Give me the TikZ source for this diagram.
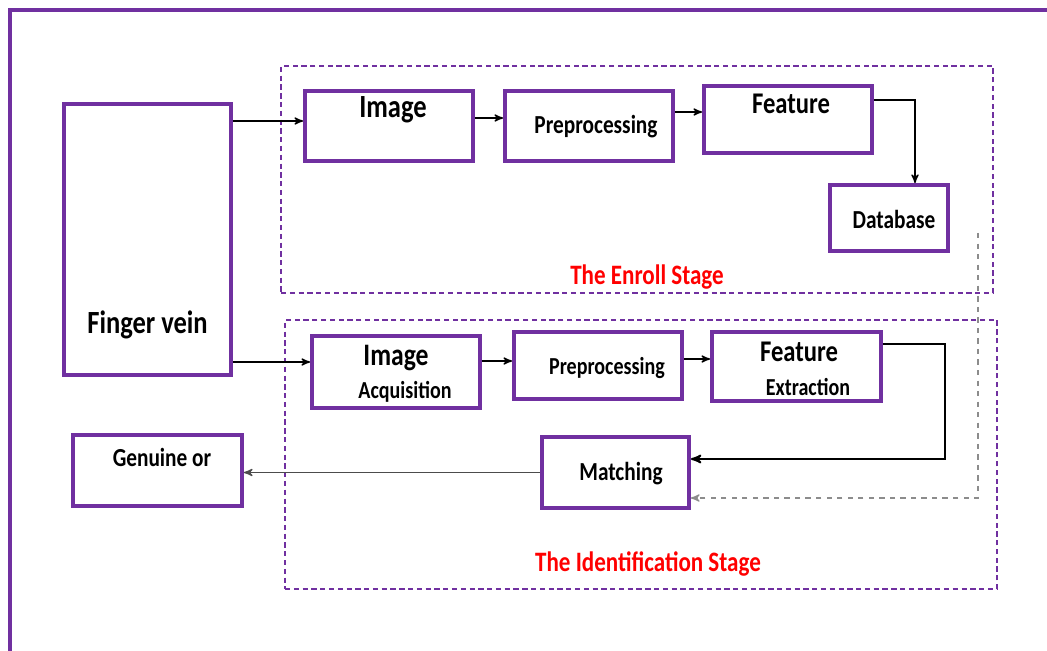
\documentclass[tikz,border=0pt]{standalone}
\usepackage{fontspec}
\setmainfont{Carlito}[FakeStretch=0.82]
\usetikzlibrary{arrows,positioning,calc}
\definecolor{vpurple}{HTML}{7030A0}
\tikzstyle{rec} = [rectangle, draw=vpurple, line width=2.2pt, minimum width=3.36cm, minimum height=1.4cm, inner sep=0pt]
\tikzstyle{stage} = [rectangle, draw=vpurple, line width=1pt, dashed, dash pattern=on 3pt off 2pt, minimum width=14.24cm, inner sep=0pt]
\tikzstyle{stagetxt} = [text=red, font=\fontsize{16}{18}\selectfont\bfseries]
\tikzstyle{big} = [font=\fontsize{18.4}{20}\selectfont\bfseries]
\tikzstyle{mid} = [font=\fontsize{17.1}{19}\selectfont\bfseries]
\tikzstyle{small} = [font=\fontsize{13.9}{15}\selectfont\bfseries]

\begin{document}
\begin{tikzpicture}[x=0.02cm,y=-0.02cm,>=stealth',
  arr/.style={->,line width=0.8pt},
  every label/.style={font=\fontsize{14.8}{16}\selectfont\bfseries}]
  \useasboundingbox (0,0) rectangle (1047,651);
  \clip (0,0) rectangle (1047,651);
  % outer frame
  \draw[vpurple, line width=2.2pt] (10,700) -- (10,10) -- (1100,10);

  % stage regions
  \node (enroll) [stage, minimum height=4.54cm] at (637,179.5) {};
  \node (ident) [stage, minimum height=5.38cm] at (641,454.5) {};
  \node (enrolltxt) [stagetxt] at (647,277) {The Enroll Stage};
  \node (identtxt) [stagetxt] at (648,564) {The Identification Stage};

  % blocks
  \node (fv) [rec, minimum width=3.34cm, minimum height=5.42cm,
    label={[big,yshift=-1.7cm]center:Finger vein}] at (147.5,239.5) {};
  \node (img1) [rec, label={[big,xshift=0.08cm,yshift=0.32cm]center:Image}] at (389,126) {};
  \node (pre1) [rec, label={[xshift=0.14cm,yshift=-0.02cm]center:Preprocessing}] at (589,126) {};
  \node (feat1) [rec, minimum height=1.34cm,
    label={[mid,xshift=0.06cm,yshift=0.31cm]center:Feature}] at (788,119.5) {};
  \node (db) [rec, minimum width=2.36cm, minimum height=1.32cm,
    label={[xshift=0.1cm,yshift=-0.02cm]center:Database}] at (889,218) {};

  \node (img2) [rec, minimum height=1.44cm,
    label={[big,font=\fontsize{17.8}{19}\selectfont\bfseries,yshift=0.28cm]center:Image},
    label={[small,xshift=0.18cm,yshift=-0.4cm]center:Acquisition}] at (396,372) {};
  \node (pre2) [rec, minimum height=1.34cm,
    label={[small,xshift=0.18cm,yshift=-0.05cm]center:Preprocessing}] at (598,365.5) {};
  \node (feat2) [rec, minimum width=3.38cm, minimum height=1.38cm,
    label={[mid,xshift=0.05cm,yshift=0.29cm]center:Feature},
    label={[small,xshift=0.23cm,yshift=-0.41cm]center:Extraction}] at (796.5,366.5) {};
  \node (match) [rec, minimum width=2.94cm, minimum height=1.42cm,
    label={[xshift=0.11cm,yshift=-0.03cm]center:Matching}] at (615.5,472.5) {};
  \node (gen) [rec, minimum width=3.38cm, minimum height=1.42cm,
    label={[xshift=0.09cm,yshift=0.27cm]center:Genuine or}] at (157.5,470.5) {};

  % enroll flow
  \draw[arr] ([yshift=0.1cm]img1.west -| fv.east) -- ([yshift=0.1cm]img1.west);
  \draw[arr] ([yshift=0.16cm]img1.east) -- ([yshift=0.16cm]img1.east -| pre1.west);
  \draw[arr] ([yshift=0.28cm]pre1.east) -- ([yshift=0.28cm]pre1.east -| feat1.west);
  \draw[arr] ([yshift=0.39cm]feat1.east) -| ([xshift=0.52cm]db.north);

  % identification flow
  \draw[arr] ([yshift=0.2cm]img2.west -| fv.east) -- ([yshift=0.2cm]img2.west);
  \draw[arr] ([yshift=0.22cm]img2.east) -- ([yshift=0.22cm]img2.east -| pre2.west);
  \draw[arr] ([yshift=0.13cm]pre2.east) -- ([yshift=0.13cm]pre2.east -| feat2.west);
  \draw[arr, line width=1.1pt] ([yshift=0.45cm]feat2.east) -- ++(62,0) |- ([yshift=0.27cm]match.east);
  \draw[arr, draw=black!70] (match.west) -- (match.west -| gen.east);
  \draw[arr, draw=black!45, dashed] ([xshift=0.56cm,yshift=-0.3cm]db.east) |- ([yshift=-0.51cm]match.east);
\end{tikzpicture}
\end{document}
